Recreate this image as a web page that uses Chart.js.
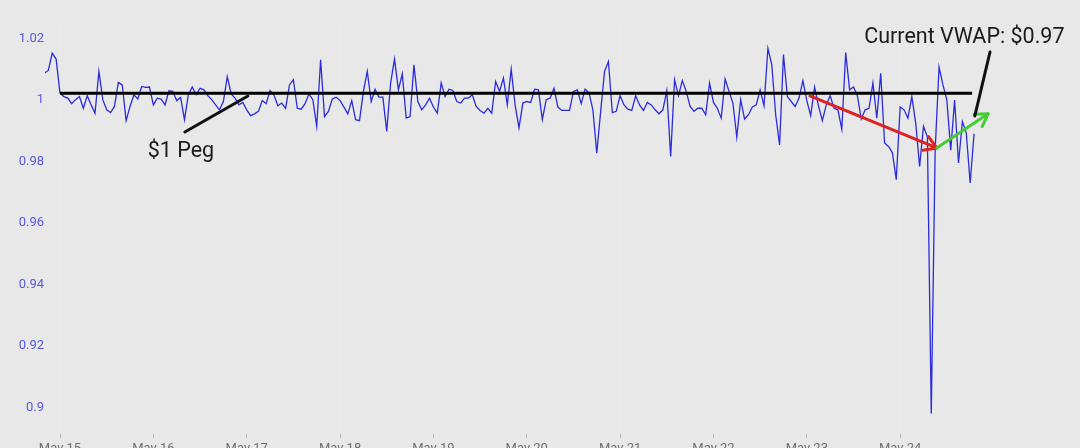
<!DOCTYPE html>
<html>
<head>
<meta charset="utf-8">
<script src="https://cdn.jsdelivr.net/npm/chart.js@4/dist/chart.umd.min.js"></script>
<style>
  html, body { margin: 0; padding: 0; background: #e8e8e8; overflow: hidden; }
  #wrap { width: 1080px; height: 448px; position: relative; }
</style>
</head>
<body>
<div id="wrap"><canvas id="vwapChart"></canvas></div>
<script>
// hourly VWAP, first point is May 14 20:00 (hour -4 from May 15 00:00)
const firstHour = -4;
const vwap = [
    1.0087, 1.0096, 1.0152, 1.0133,
    // May 15
    1.0022, 1.0011, 1.0006, 0.9988, 1.0001, 1.0011, 0.9973, 1.0014, 0.9984, 0.9957, 1.0093, 1.0001,
    0.9968, 0.9959, 0.9979, 1.0057, 1.0049, 0.9933, 0.9979, 1.0017, 1.0003, 1.0044, 1.0041, 1.0042,
    // May 16
    0.9984, 1.0006, 1.0003, 0.9984, 1.0030, 1.0028, 0.9998, 1.0008, 0.9936, 1.0017, 1.0042, 1.0017,
    1.0038, 1.0033, 1.0014, 1.0001, 0.9984, 0.9968, 0.9995, 1.0076, 1.0020, 1.0006, 0.9984, 0.9992,
    // May 17
    0.9968, 0.9949, 0.9955, 0.9963, 0.9998, 0.9988, 1.0031, 1.0017, 0.9981, 0.9990, 0.9973, 1.0049,
    1.0066, 0.9973, 0.9970, 0.9988, 1.0020, 1.0001, 0.9914, 1.0131, 0.9946, 0.9963, 1.0003, 1.0009,
    // May 18
    0.9998, 0.9977, 0.9955, 0.9998, 0.9936, 0.9933, 1.0028, 1.0093, 0.9995, 1.0035, 1.0009, 1.0009,
    0.9898, 1.0055, 1.0133, 1.0033, 1.0085, 0.9941, 0.9946, 1.0114, 0.9995, 0.9968, 0.9984, 1.0006,
    // May 19
    0.9977, 0.9957, 1.0055, 1.0011, 1.0035, 1.0031, 0.9995, 0.9990, 1.0006, 1.0006, 1.0017, 0.9979,
    0.9966, 0.9957, 0.9973, 0.9957, 1.0060, 1.0028, 1.0071, 0.9984, 1.0100, 0.9984, 0.9909, 0.9990,
    // May 20
    0.9995, 0.9992, 1.0035, 1.0033, 0.9936, 1.0001, 1.0006, 1.0038, 0.9977, 0.9966, 0.9966, 0.9966,
    1.0028, 1.0033, 0.9988, 1.0035, 1.0024, 0.9968, 0.9827, 0.9963, 1.0093, 1.0125, 0.9959, 0.9963,
    // May 21
    1.0014, 0.9984, 0.9970, 0.9966, 1.0014, 0.9984, 0.9966, 0.9992, 0.9984, 0.9968, 0.9955, 0.9968,
    1.0030, 0.9816, 1.0066, 1.0014, 1.0063, 1.0028, 0.9979, 0.9963, 0.9973, 0.9973, 0.9952, 1.0055,
    // May 22
    0.9992, 0.9973, 0.9941, 1.0068, 1.0028, 0.9990, 0.9879, 1.0001, 0.9938, 0.9952, 0.9977, 0.9984,
    1.0033, 0.9981, 1.0168, 1.0114, 0.9952, 0.9854, 1.0148, 1.0011, 0.9995, 0.9979, 1.0006, 1.0063,
    // May 23
    0.9998, 0.9949, 1.0042, 0.9981, 0.9933, 0.9984, 1.0014, 0.9973, 0.9968, 0.9905, 1.0154, 1.0033,
    1.0042, 1.0014, 0.9938, 0.9968, 0.9973, 1.0055, 0.9941, 1.0087, 0.9860, 0.9849, 0.9829, 0.9741,
    // May 24
    0.9977, 0.9968, 0.9941, 1.0011, 0.9925, 0.9784, 0.9914, 0.9880, 0.8981, 0.9837, 1.0107, 1.0049,
    1.0000, 0.9837, 1.0000, 0.9795, 0.9930, 0.9893, 0.9730, 0.9890
];

// the drawn "$1 peg" line (sits a touch above the 1 tick in the picture)
const pegLevel = 1.0022;
const pegFrom = 0;
const pegTo = 234.5;

const xTicks = [0, 24, 48, 72, 96, 120, 144, 168, 192, 216];
const xLabels = ["May 15", "May 16", "May 17", "May 18", "May 19", "May 20", "May 21", "May 22", "May 23", "May 24"];
const yTicks = [0.9, 0.92, 0.94, 0.96, 0.98, 1, 1.02];

// hand drawn notes, in [hour, price]
const pegPointer = [[32.1, 0.9896], [48.3, 1.0013]];
const redArrow = [[192.8, 1.0013], [225.4, 0.9844]];
const greenArrow = [[225.4, 0.9844], [238.6, 0.9955]];
const vwapPointer = [[239.1, 1.0156], [235.2, 0.9948]];
const pegNote = { text: "$1 Peg", at: [31.1, 0.9815] };
const vwapNote = { text: "Current VWAP: $0.97", at: [232.5, 1.0184] };

const points = vwap.map((v, i) => ({ x: firstHour + i, y: v }));

const bgPlugin = {
    id: "bg",
    beforeDraw(chart) {
        const ctx = chart.ctx;
        ctx.save();
        ctx.fillStyle = "#e8e8e8";
        ctx.fillRect(0, 0, chart.width, chart.height);
        ctx.restore();
    }
};

const notesPlugin = {
    id: "notes",
    afterDatasetsDraw(chart) {
        const { ctx, scales } = chart;
        const px = p => [scales.x.getPixelForValue(p[0]), scales.y.getPixelForValue(p[1])];

        function line(seg, color) {
            const a = px(seg[0]), b = px(seg[1]);
            ctx.strokeStyle = color;
            ctx.beginPath();
            ctx.moveTo(a[0], a[1]);
            ctx.lineTo(b[0], b[1]);
            ctx.stroke();
        }

        function arrow(seg, color) {
            const a = px(seg[0]), b = px(seg[1]);
            line(seg, color);
            const ang = Math.atan2(b[1] - a[1], b[0] - a[0]);
            const len = 14;
            ctx.beginPath();
            ctx.moveTo(b[0] - len * Math.cos(ang - 0.55), b[1] - len * Math.sin(ang - 0.55));
            ctx.lineTo(b[0], b[1]);
            ctx.lineTo(b[0] - len * Math.cos(ang + 0.55), b[1] - len * Math.sin(ang + 0.55));
            ctx.stroke();
        }

        ctx.save();
        ctx.lineWidth = 3;
        ctx.lineCap = "round";
        ctx.lineJoin = "round";
        line(pegPointer, "#111");
        arrow(redArrow, "#dd2222");
        arrow(greenArrow, "#44cc33");
        line(vwapPointer, "#111");

        ctx.fillStyle = "#1a1a1a";
        ctx.font = "21.5px Roboto";
        ctx.textAlign = "center";
        ctx.textBaseline = "alphabetic";
        for (const note of [pegNote, vwapNote]) {
            const p = px(note.at);
            ctx.fillText(note.text, p[0], p[1]);
        }
        ctx.restore();
    }
};

new Chart("vwapChart", {
    type: "line",
    data: {
        datasets: [
            {
                label: "$1 Peg",
                data: [{ x: pegFrom, y: pegLevel }, { x: pegTo, y: pegLevel }],
                borderColor: "#000",
                borderWidth: 3,
                pointRadius: 0,
            },
            {
                label: "VWAP",
                data: points,
                borderColor: "#2b2bdc",
                borderWidth: 1.3,
                pointRadius: 0,
                tension: 0,
            },
        ],
    },
    options: {
        responsive: true,
        maintainAspectRatio: false,
        animation: false,
        events: [],
        layout: { padding: { left: 0, right: 104, top: 20, bottom: 0 } },
        plugins: { legend: { display: false }, tooltip: { enabled: false } },
        scales: {
            x: {
                type: "linear",
                min: -3.86,
                max: 235.5,
                afterFit: s => { s.height = 14; },
                afterBuildTicks: s => { s.ticks = xTicks.map(v => ({ value: v })); },
                ticks: {
                    autoSkip: false,
                    maxRotation: 0,
                    padding: 3,
                    color: "#707070",
                    font: { family: "Roboto", size: 13 },
                    callback: v => xLabels[xTicks.indexOf(v)],
                },
                grid: { color: "rgba(255,255,255,0.12)", tickColor: "#b0b0b0", tickLength: 4 },
                border: { display: false },
            },
            y: {
                type: "linear",
                min: 0.8914,
                max: 1.026,
                afterFit: s => { s.width = 45; },
                afterBuildTicks: s => { s.ticks = yTicks.map(v => ({ value: v })); },
                ticks: {
                    padding: 1,
                    color: "#5858d8",
                    font: { family: "Roboto", size: 13 },
                    callback: v => String(Number(v.toFixed(2))),
                },
                grid: { color: "rgba(255,255,255,0.12)", drawTicks: false },
                border: { display: false },
            },
        },
    },
    plugins: [bgPlugin, notesPlugin],
});
</script>
</body>
</html>
